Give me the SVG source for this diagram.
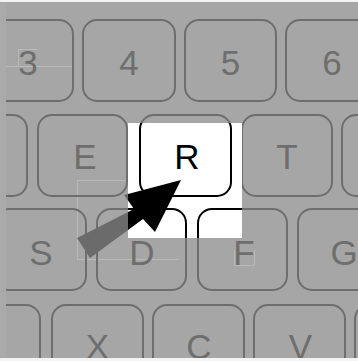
<svg xmlns="http://www.w3.org/2000/svg" width="358" height="361" viewBox="0 0 358 361">
<style>
.k{fill:none;stroke:#6e6e6e;stroke-width:2}
.kb{fill:none;stroke:#000;stroke-width:2}
.t{font-family:"Liberation Sans",Arial,sans-serif;font-size:35px;fill:#6e6e6e;text-anchor:middle}
.tb{fill:#000}
.faint{fill:none;stroke:#b9b9b9;stroke-width:1}
</style>
<defs>
<clipPath id="content"><rect x="6" y="2" width="352" height="356"/></clipPath>
<clipPath id="hl"><rect x="128" y="123" width="114" height="115"/></clipPath>
<polygon id="arrowShape" points="181,180 155,232 143,219 90,258 77,238 134,209 124,195"/>
</defs>
<rect width="358" height="361" fill="#f4f4f4"/>
<rect x="0" y="2" width="358" height="356" fill="#aaaaaa"/>
<g clip-path="url(#content)">
<rect x="6" y="2" width="352" height="356" fill="#a6a6a6"/>
<g id="faint-lines">
<path class="faint" d="M6 66.5H73M18.5 49.5H37M18.5 49.5V66.5M77.5 180.5H128M77.5 180.5V259.5H179M234.5 250V265.5H254.5V250"/>
</g>
<g id="row1">
<g id="key-3"><rect class="k" x="-19" y="20" width="92" height="81" rx="14"/><text class="t" x="28" y="75">3</text></g>
<g id="key-4"><rect class="k" x="83" y="20" width="92" height="81" rx="14"/><text class="t" x="129" y="75">4</text></g>
<g id="key-5"><rect class="k" x="185" y="20" width="91" height="81" rx="14"/><text class="t" x="230.5" y="75">5</text></g>
<g id="key-6"><rect class="k" x="286" y="20" width="92" height="81" rx="14"/><text class="t" x="332" y="75">6</text></g>
</g>
<g id="row2">
<g id="key-W"><rect class="k" x="-63" y="115" width="90" height="81" rx="14"/></g>
<g id="key-E"><rect class="k" x="38" y="115" width="89" height="81" rx="14"/><text class="t" x="85" y="169">E</text></g>
<g id="key-R-dim"><rect class="k" x="140" y="115" width="91" height="81" rx="14"/></g>
<g id="key-T"><rect class="k" x="242" y="115" width="90" height="81" rx="14"/><text class="t" x="287" y="169">T</text></g>
<g id="key-Y"><rect class="k" x="342" y="115" width="90" height="81" rx="14"/></g>
</g>
<g id="row3">
<g id="key-S"><rect class="k" x="-5" y="209" width="91" height="81" rx="14"/><text class="t" x="41" y="265">S</text></g>
<g id="key-D"><rect class="k" x="97" y="209" width="89" height="81" rx="14"/><text class="t" x="142" y="265">D</text></g>
<g id="key-F"><rect class="k" x="198" y="209" width="89" height="81" rx="14"/><text class="t" x="244" y="265">F</text></g>
<g id="key-G"><rect class="k" x="298" y="209" width="91" height="81" rx="14"/><text class="t" x="344" y="265">G</text></g>
</g>
<g id="row4">
<g id="key-Z"><rect class="k" x="-51" y="305" width="91" height="81" rx="14"/></g>
<g id="key-X"><rect class="k" x="52" y="305" width="91" height="81" rx="14"/><text class="t" x="97.5" y="359">X</text></g>
<g id="key-C"><rect class="k" x="153" y="305" width="91" height="81" rx="14"/><text class="t" x="199" y="359">C</text></g>
<g id="key-V"><rect class="k" x="254" y="305" width="91" height="81" rx="14"/><text class="t" x="300.5" y="359">V</text></g>
<g id="key-B"><rect class="k" x="355" y="305" width="91" height="81" rx="14"/></g>
</g>
<g id="arrow-dim"><use href="#arrowShape" fill="#6b6b6b"/></g>
<g id="highlight">
<rect x="128" y="123" width="114" height="115" fill="#fff"/>
<g clip-path="url(#hl)">
<g id="key-R"><rect class="kb" x="140" y="115" width="91" height="81" rx="14"/><text class="t tb" x="187" y="169">R</text></g>
<rect class="kb" x="97" y="209" width="89" height="81" rx="14"/>
<rect class="kb" x="198" y="209" width="89" height="81" rx="14"/>
<use href="#arrowShape" fill="#000"/>
</g>
</g>
</g>
</svg>
